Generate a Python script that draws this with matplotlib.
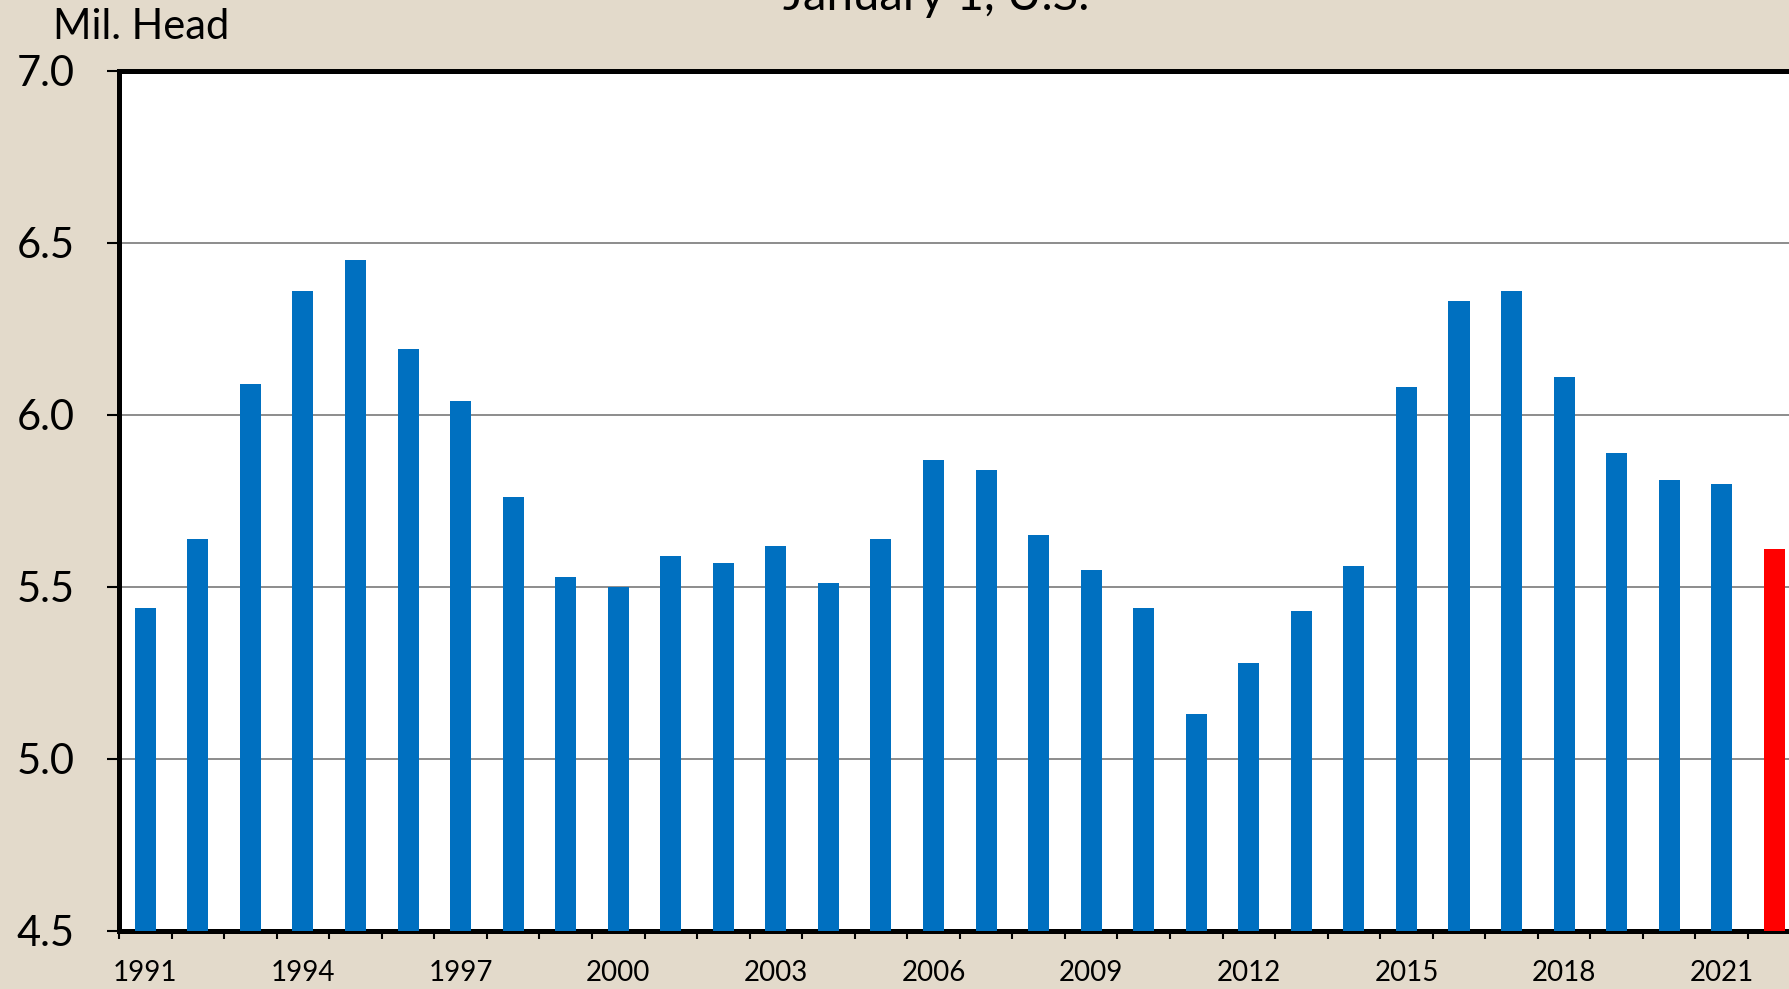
import matplotlib
matplotlib.use('Agg')
import matplotlib.pyplot as plt
from matplotlib.ticker import MultipleLocator, FixedLocator

plt.rcParams['font.family'] = ['Lato', 'DejaVu Sans']

# dane: stan na 1 stycznia, mln sztuk
lata = list(range(1991, 2023))
wartosci = [5.44, 5.64, 6.09, 6.36, 6.45, 6.19, 6.04, 5.76, 5.53, 5.50,
            5.59, 5.57, 5.62, 5.51, 5.64, 5.87, 5.84, 5.65, 5.55, 5.44,
            5.13, 5.28, 5.43, 5.56, 6.08, 6.33, 6.36, 6.11, 5.89, 5.81,
            5.80, 5.61]
tytul = 'January 1, U.S.'
opis_osi_y = 'Mil. Head'

kolor_tla = '#e3dacb'
kolory = ['#0070c0'] * (len(lata) - 1) + ['#ff0000']

fig = plt.figure(figsize=(17.9, 9.89), dpi=100, facecolor=kolor_tla)
ax = fig.add_axes([0.0665, 0.0587, 0.9394, 0.8697])
ax.set_facecolor('white')

x = list(range(len(lata)))
ax.bar(x, wartosci, width=0.4, color=kolory, zorder=3)

ax.set_xlim(-0.5, len(lata) - 0.5)
ax.set_ylim(4.5, 7.0)

ax.yaxis.set_major_locator(MultipleLocator(0.5))
ax.yaxis.set_major_formatter(plt.FormatStrFormatter('%.1f'))
ax.grid(axis='y', color='#8c8c8c', linewidth=1.4, zorder=1)

ax.set_xticks(x)
ax.set_xticklabels([str(r) if (r - 1991) % 3 == 0 else '' for r in lata])
ax.xaxis.set_minor_locator(FixedLocator([i - 0.5 for i in range(len(lata) + 1)]))

ax.tick_params(axis='x', which='major', length=0, pad=21, labelsize=20)
ax.tick_params(axis='x', which='minor', length=6, width=1.5, color='black')
ax.tick_params(axis='y', length=9, width=1.5, pad=23, labelsize=30)

for strona in ['top', 'left', 'bottom']:
    ax.spines[strona].set_linewidth(3.6)
    ax.spines[strona].set_color('black')
ax.spines['right'].set_visible(False)

fig.text(53 / 1790, 1 - 39 / 989, opis_osi_y, fontsize=30, va='baseline', ha='left')
# tytuł ucięty górną krawędzią, tak jak w oryginale
fig.text(936 / 1790, 1 - 10 / 989, tytul, fontsize=34, va='baseline', ha='center')

plt.savefig('out.png', dpi=100, facecolor=kolor_tla)
